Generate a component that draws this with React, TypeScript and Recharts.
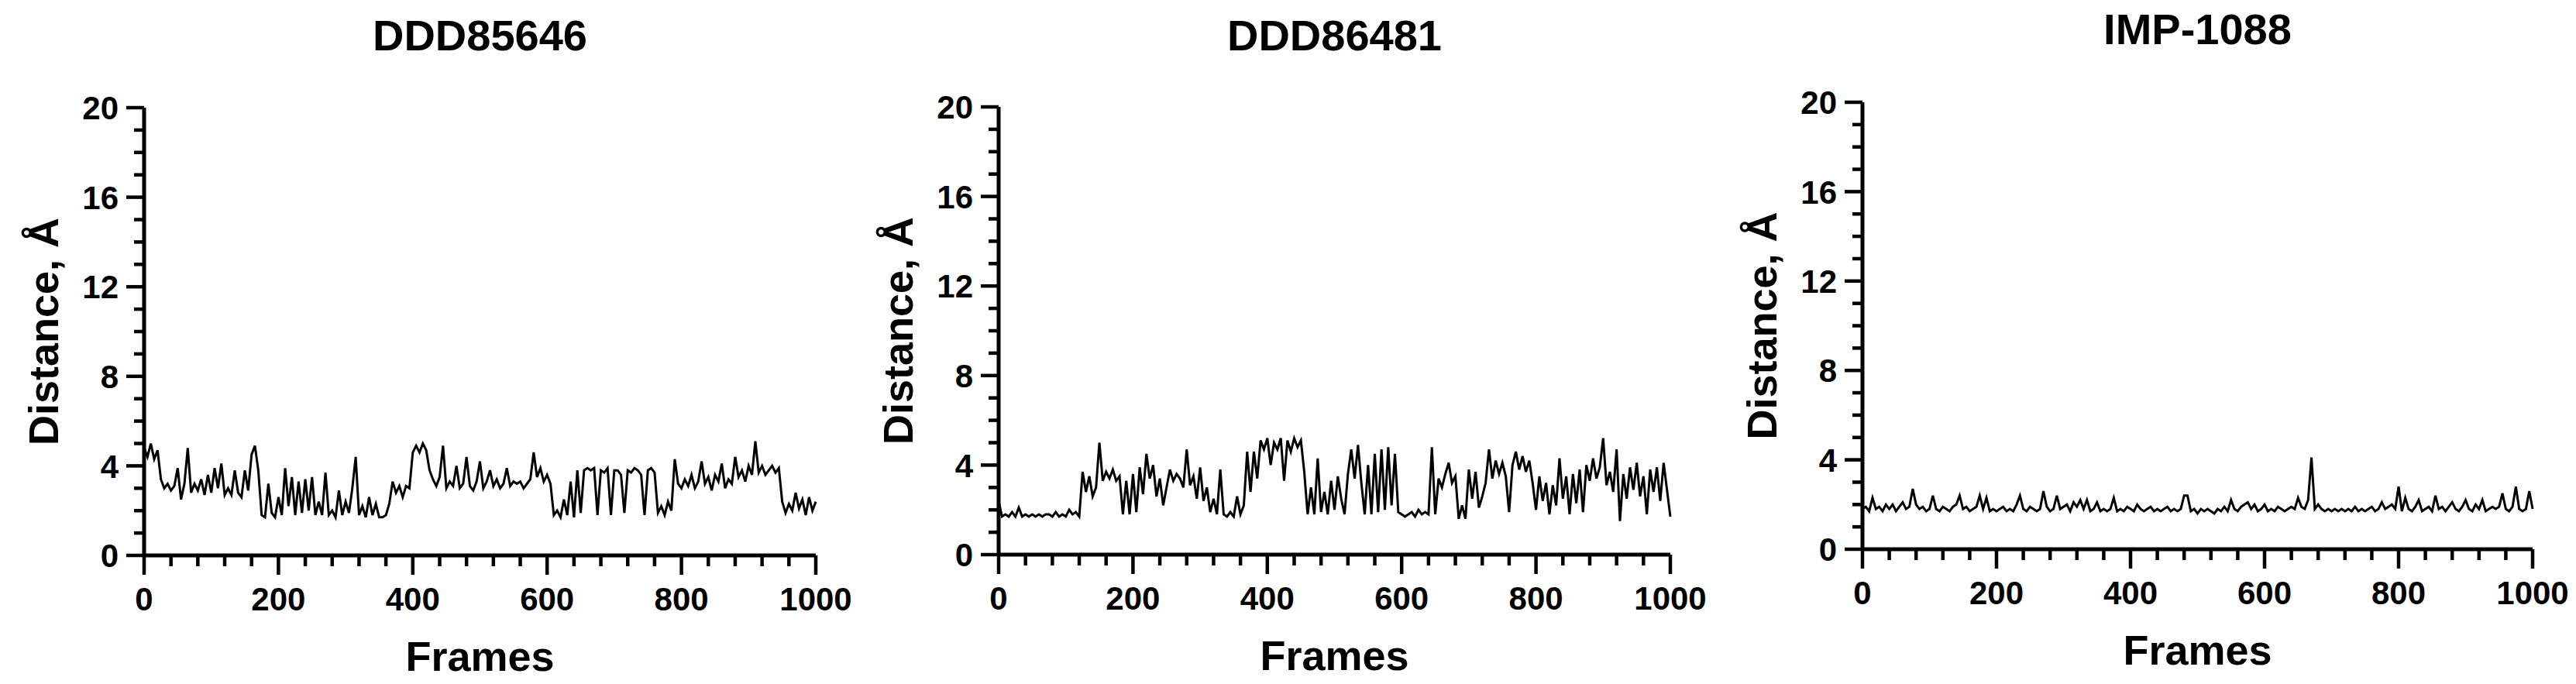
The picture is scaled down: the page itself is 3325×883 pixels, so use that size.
import { LineChart, Line, XAxis, YAxis, Label } from 'recharts'

const STEP = 5
const frames = Array.from({ length: 201 }, (_, i) => i * STEP)
const xTicks = Array.from({ length: 26 }, (_, i) => i * 40)
const yTicks = Array.from({ length: 21 }, (_, i) => i)
const xMajor = [0, 200, 400, 600, 800, 1000]
const yMajor = [0, 4, 8, 12, 16, 20]

// distance (Å) every 5 frames
const ddd85646 = [
  4.8, 4.4, 5.0, 4.3, 4.7, 3.4, 3.0, 3.2, 2.9, 3.1, 3.9, 2.5, 3.2, 4.8, 2.8, 3.2, 2.9, 3.4, 2.7, 3.6,
  2.8, 3.9, 3.0, 4.1, 2.7, 3.0, 2.7, 3.8, 2.8, 2.6, 3.8, 2.9, 4.5, 4.9, 3.8, 1.8, 1.7, 3.2, 1.9, 1.7,
  2.6, 1.8, 3.9, 2.2, 3.5, 1.8, 3.3, 1.9, 3.4, 2.0, 3.5, 1.8, 2.4, 1.8, 3.7, 1.8, 2.0, 1.7, 2.9, 1.8,
  2.4, 1.9, 3.0, 4.4, 1.8, 2.2, 1.7, 2.6, 1.8, 2.3, 1.7, 1.7, 1.8, 2.3, 3.3, 2.8, 3.1, 2.6, 3.1, 3.0,
  4.6, 4.9, 4.6, 5.0, 4.7, 3.8, 3.4, 3.1, 3.5, 4.9, 3.0, 3.3, 3.1, 4.0, 3.0, 3.2, 4.4, 3.1, 2.9, 3.3,
  4.2, 3.0, 3.3, 3.8, 3.1, 3.4, 3.0, 3.2, 3.9, 3.1, 3.3, 3.2, 3.3, 3.0, 3.2, 3.4, 4.6, 3.5, 3.9, 3.3,
  3.6, 3.2, 1.8, 2.0, 1.7, 2.5, 1.8, 3.3, 1.7, 3.8, 1.9, 3.8, 3.9, 3.8, 3.9, 1.8, 3.8, 3.7, 3.9, 1.8,
  3.8, 3.8, 3.6, 1.9, 3.8, 3.7, 3.9, 3.8, 3.6, 1.8, 3.8, 3.9, 3.7, 1.9, 2.2, 1.8, 2.4, 2.0, 4.3, 3.2,
  3.0, 3.4, 3.1, 3.6, 3.0, 3.3, 4.2, 3.2, 3.5, 2.9, 3.6, 3.3, 4.1, 3.0, 3.4, 3.2, 4.4, 3.5, 3.8, 3.3,
  4.0, 3.6, 5.1, 3.7, 4.0, 3.6, 3.8, 4.0, 3.7, 3.9, 2.4, 1.9, 2.3, 2.0, 2.8, 2.1, 2.5, 1.8, 2.6, 2.0,
  2.4,
]

const ddd86481 = [
  2.4, 1.7, 1.8, 1.7, 1.9, 1.7, 2.1, 1.7, 1.8, 1.7, 1.8, 1.7, 1.8, 1.7, 1.8, 1.8, 1.7, 1.9, 1.7, 1.8,
  1.7, 2.0, 1.8, 1.9, 1.7, 3.7, 2.8, 3.5, 2.6, 3.0, 5.0, 3.3, 3.7, 3.4, 3.8, 3.3, 3.5, 1.8, 3.3, 1.8,
  3.6, 1.9, 3.9, 2.7, 4.5, 3.4, 4.0, 2.6, 3.4, 2.2, 3.0, 3.8, 3.3, 3.6, 3.4, 3.0, 4.7, 3.1, 3.5, 2.5,
  3.9, 2.4, 3.0, 1.9, 2.5, 1.8, 3.8, 1.8, 1.7, 1.9, 1.7, 2.6, 1.8, 2.2, 4.6, 2.8, 4.6, 3.4, 5.1, 4.7,
  5.2, 4.0, 5.0, 4.7, 5.2, 3.3, 5.1, 4.6, 5.2, 4.8, 5.1, 3.7, 1.8, 3.0, 1.8, 4.3, 1.9, 2.8, 1.8, 3.3,
  2.0, 3.5, 2.5, 1.8, 3.6, 4.7, 3.4, 4.9, 3.2, 1.8, 4.0, 1.8, 4.5, 1.9, 4.7, 2.0, 4.8, 2.2, 4.5, 1.9,
  1.8, 1.7, 1.8, 1.9, 1.7, 2.0, 1.8, 1.9, 1.8, 4.8, 1.8, 3.4, 3.0, 3.6, 4.1, 3.2, 3.5, 1.6, 2.2, 1.6,
  3.8, 2.5, 3.7, 2.1, 2.6, 3.2, 4.7, 3.4, 4.2, 3.6, 4.1, 3.5, 1.9, 4.0, 4.6, 3.8, 4.4, 3.7, 4.2, 3.2,
  2.0, 3.5, 2.4, 3.2, 1.8, 3.1, 2.2, 4.3, 2.5, 3.5, 1.8, 3.6, 2.3, 3.8, 1.9, 4.0, 3.3, 4.3, 3.4, 3.9,
  5.2, 3.1, 3.7, 2.8, 4.7, 1.5, 3.6, 2.5, 3.9, 2.9, 4.1, 2.6, 3.5, 1.8, 3.8, 2.8, 3.9, 2.4, 4.1, 2.9,
  1.7,
]

const imp1088 = [
  1.8, 1.9, 1.7, 2.3, 1.8, 1.9, 1.7, 2.0, 1.8, 2.0, 1.7, 1.9, 2.1, 1.8, 1.9, 2.7, 2.0, 1.8, 1.9, 1.7,
  1.8, 2.4, 1.8, 1.7, 1.9, 1.8, 1.7, 1.9, 2.0, 2.4, 1.8, 1.9, 1.7, 1.8, 1.9, 2.4, 1.8, 2.3, 1.7, 1.8,
  1.7, 1.8, 1.9, 1.7, 1.8, 1.7, 2.0, 2.4, 1.8, 1.7, 1.9, 1.8, 1.7, 1.8, 2.6, 1.9, 1.7, 1.8, 2.4, 1.8,
  1.9, 2.0, 1.7, 2.1, 1.9, 2.2, 1.8, 2.2, 1.7, 1.8, 2.1, 1.7, 1.8, 1.7, 1.8, 2.3, 1.7, 1.8, 1.7, 1.9,
  1.8, 1.7, 2.0, 1.8, 1.7, 1.8, 1.9, 1.7, 1.8, 1.7, 1.8, 1.9, 1.7, 1.8, 1.7, 1.8, 2.4, 2.4, 1.7, 1.8,
  1.6, 1.8, 1.7, 1.8, 1.7, 1.6, 1.8, 1.7, 1.9, 1.7, 2.2, 1.8, 1.7, 1.9, 2.0, 2.1, 1.8, 2.0, 1.7, 1.8,
  2.0, 1.7, 1.8, 1.7, 1.9, 1.8, 1.7, 1.8, 1.9, 1.8, 2.3, 1.9, 1.8, 2.2, 4.1, 1.8, 2.0, 1.8, 1.7, 1.8,
  1.7, 1.8, 1.7, 1.8, 1.7, 1.8, 1.7, 1.9, 1.7, 1.8, 1.7, 1.8, 1.9, 1.7, 1.8, 2.1, 1.8, 1.9, 2.0, 1.8,
  2.8, 1.7, 2.3, 1.8, 1.7, 1.9, 2.2, 1.7, 1.8, 1.9, 1.7, 2.4, 1.8, 1.9, 1.7, 1.9, 2.1, 1.8, 1.7, 1.9,
  2.2, 1.8, 1.7, 2.0, 1.8, 2.2, 1.7, 1.8, 1.9, 1.8, 1.9, 2.5, 1.8, 1.7, 1.9, 2.8, 1.8, 1.7, 1.8, 2.6,
  1.8,
]

const FONT = "'Liberation Sans', Arial, Helvetica, sans-serif"

function XTick({ x, y, payload }: any) {
  const major = xMajor.includes(payload.value)
  return (
    <g>
      <line x1={x} y1={y} x2={x} y2={y + (major ? 25 : 14)} stroke="#000" strokeWidth={4.5} />
      {major && (
        <text x={x} y={y + 71} textAnchor="middle" fontSize={42} fontWeight="bold" fontFamily={FONT} fill="#000">
          {payload.value}
        </text>
      )}
    </g>
  )
}

function YTick({ x, y, payload }: any) {
  const major = yMajor.includes(payload.value)
  return (
    <g>
      <line x1={x} y1={y} x2={x - (major ? 23 : 13)} y2={y} stroke="#000" strokeWidth={4.5} />
      {major && (
        <text x={x - 33} y={y} dy="0.36em" textAnchor="end" fontSize={42} fontWeight="bold" fontFamily={FONT} fill="#000">
          {payload.value}
        </text>
      )}
    </g>
  )
}

type PanelProps = { title: string; values: number[]; left: number; width: number; top: number; bottom: number; titleY: number }

function Panel({ title, values, left, width, top, bottom, titleY }: PanelProps) {
  const data = frames.map((f, i) => ({ frame: f, dist: values[i] }))
  const right = 50
  const cx = (186 + width - right) / 2
  const cy = (top + bottom) / 2
  return (
    <div style={{ position: 'absolute', left, top: 0, width, height: 883 }}>
      <LineChart width={width} height={883} data={data} margin={{ top, right, bottom: 0, left: 0 }}>
        <XAxis
          dataKey="frame"
          type="number"
          domain={[0, 1000]}
          ticks={xTicks}
          interval={0}
          tick={<XTick />}
          tickLine={false}
          tickSize={0}
          tickMargin={0}
          height={883 - bottom}
          axisLine={{ stroke: '#000', strokeWidth: 5 }}
        >
          <Label
            content={() => (
              <text x={cx} y={bottom + 149} textAnchor="middle" fontSize={54} fontWeight="bold" fontFamily={FONT} fill="#000">
                Frames
              </text>
            )}
          />
        </XAxis>
        <YAxis
          type="number"
          domain={[0, 20]}
          ticks={yTicks}
          interval={0}
          tick={<YTick />}
          tickLine={false}
          tickSize={0}
          tickMargin={0}
          width={186}
          axisLine={{ stroke: '#000', strokeWidth: 5 }}
        >
          <Label
            content={() => (
              <text
                x={75}
                y={cy}
                transform={`rotate(-90, 75, ${cy})`}
                textAnchor="middle"
                fontSize={54}
                fontWeight="bold"
                fontFamily={FONT}
                fill="#000"
              >
                Distance, Å
              </text>
            )}
          />
        </YAxis>
        <Line type="linear" dataKey="dist" stroke="#000" strokeWidth={3} dot={false} isAnimationActive={false} />
      </LineChart>
      <svg width={width} height={90} style={{ position: 'absolute', left: 0, top: 0 }}>
        <text x={cx} y={titleY} textAnchor="middle" fontSize={56} fontWeight="bold" fontFamily={FONT} fill="#000">
          {title}
        </text>
      </svg>
    </div>
  )
}

export default function App() {
  return (
    <div style={{ position: 'absolute', left: 0, top: 0, width: 3325, height: 883, background: '#fff' }}>
      <Panel title="DDD85646" values={ddd85646} left={0} width={1103} top={139} bottom={717} titleY={65} />
      <Panel title="DDD86481" values={ddd86481} left={1103} width={1103} top={138} bottom={716} titleY={65} />
      <Panel title="IMP-1088" values={imp1088} left={2218} width={1101} top={132} bottom={709} titleY={57} />
    </div>
  )
}
